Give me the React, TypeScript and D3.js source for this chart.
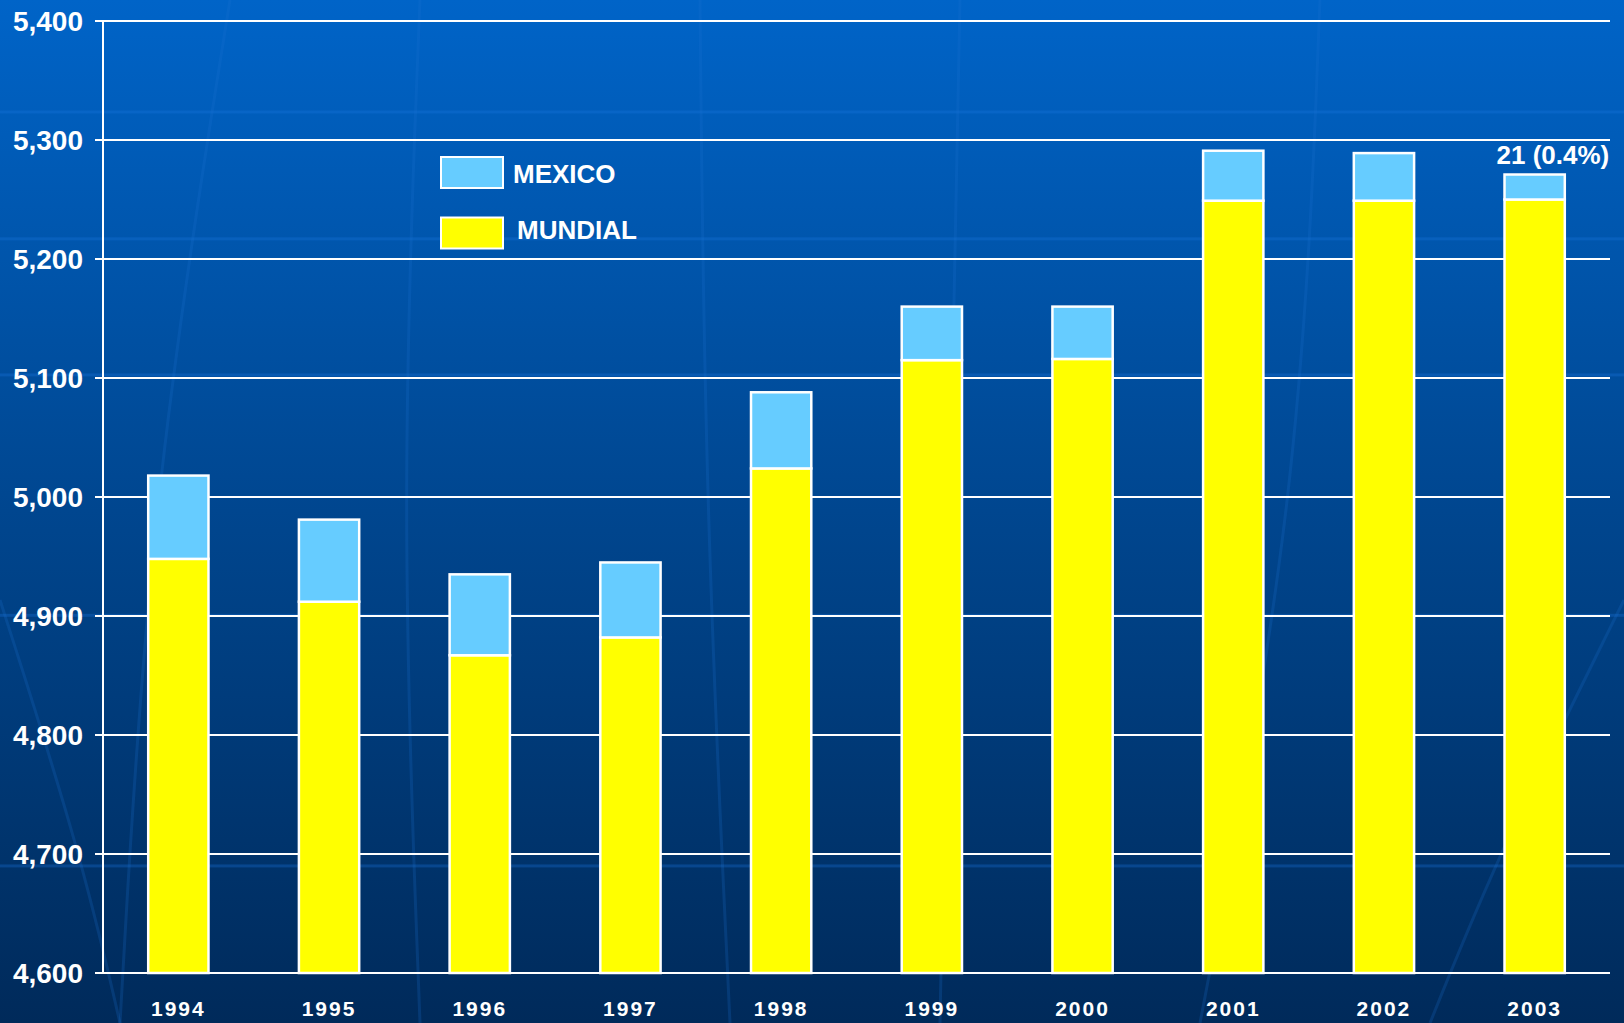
import React from "react";
import * as d3 from "d3";

const years = ["1994", "1995", "1996", "1997", "1998", "1999", "2000", "2001", "2002", "2003"];
const mundial = [4948, 4912, 4867, 4882, 5024, 5115, 5116, 5249, 5249, 5250];
const mexico = [70, 69, 68, 63, 64, 45, 44, 42, 40, 21];
const yTicks = [4600, 4700, 4800, 4900, 5000, 5100, 5200, 5300, 5400];
const legendItems = [
  { name: "MEXICO", color: "#66CCFF" },
  { name: "MUNDIAL", color: "#FFFF00" },
];
const annotation = "21 (0.4%)";

const W = 1624;
const H = 1023;
const margin = { left: 103, right: 14, top: 21, bottom: 50 };

export default function App() {
  const x = d3
    .scaleBand<string>()
    .domain(years)
    .range([margin.left, W - margin.right])
    .paddingInner(0.6)
    .paddingOuter(0.3);
  const y = d3
    .scaleLinear()
    .domain([4600, 5400])
    .range([H - margin.bottom, margin.top]);

  const fmt = d3.format(",");
  const font = "'Liberation Sans', Arial, sans-serif";

  const bands = [0.108, 0.232, 0.365, 0.6, 0.845];
  const meridians = [
    [[230, 0], [150, 500], [120, 1023]],
    [[420, 0], [400, 500], [420, 1023]],
    [[700, 0], [705, 500], [730, 1023]],
    [[960, 0], [950, 500], [940, 1023]],
    [[1320, 0], [1300, 500], [1200, 1023]],
    [[1624, 600], [1500, 850], [1430, 1023]],
    [[0, 600], [80, 850], [120, 1023]],
  ] as [number, number][][];
  const curve = d3.line().curve(d3.curveBasis);

  return (
    <svg
      width={W}
      height={H}
      style={{ position: "fixed", left: 0, top: 0, display: "block" }}
      fontFamily={font}
    >
      <defs>
        <linearGradient id="bg" x1="0" y1="0" x2="0" y2="1">
          <stop offset="0%" stopColor="#0064C8" />
          <stop offset="50%" stopColor="#00468F" />
          <stop offset="100%" stopColor="#002A5A" />
        </linearGradient>
      </defs>
      <rect x={0} y={0} width={W} height={H} fill="url(#bg)" />
      {bands.map((b, i) => (
        <rect key={"b" + i} x={0} y={b * H} width={W} height={3} fill="#1a78e0" opacity={0.3} />
      ))}
      {meridians.map((m, i) => (
        <path key={"m" + i} d={curve(m) || ""} fill="none" stroke="#1a70d0" strokeWidth={3} opacity={0.22} />
      ))}

      {/* gridlines and ticks */}
      {yTicks.map((t) => (
        <g key={t}>
          <line x1={margin.left - 8} x2={W - margin.right} y1={y(t)} y2={y(t)} stroke="#fff" strokeWidth={2} />
          <text
            x={83}
            y={y(t)}
            dy="0.36em"
            textAnchor="end"
            fill="#fff"
            fontSize={28}
            fontWeight="bold"
          >
            {fmt(t)}
          </text>
        </g>
      ))}
      <line x1={margin.left} x2={margin.left} y1={y(5400)} y2={y(4600)} stroke="#fff" strokeWidth={2} />

      {/* bars */}
      {years.map((yr, i) => {
        const bx = x(yr)!;
        const bw = x.bandwidth();
        const top = mundial[i] + mexico[i];
        return (
          <g key={yr}>
            <rect
              x={bx}
              y={y(mundial[i])}
              width={bw}
              height={y(4600) - y(mundial[i])}
              fill="#FFFF00"
              stroke="#fff"
              strokeWidth={2.5}
            />
            <rect
              x={bx}
              y={y(top)}
              width={bw}
              height={y(mundial[i]) - y(top)}
              fill="#66CCFF"
              stroke="#fff"
              strokeWidth={2.5}
            />
            <text
              x={bx + bw / 2}
              y={1016}
              textAnchor="middle"
              fill="#fff"
              fontSize={21}
              fontWeight="bold"
              letterSpacing={2}
            >
              {yr}
            </text>
          </g>
        );
      })}

      {/* annotation */}
      <text
        x={x(years[years.length - 1])! - 8}
        y={y(mundial[9] + mexico[9]) - 11}
        textAnchor="start"
        fill="#fff"
        fontSize={26}
        fontWeight="bold"
      >
        {annotation}
      </text>

      {/* legend */}
      {legendItems.map((l, i) => (
        <g key={l.name} transform={`translate(441, ${157 + i * 60.5})`}>
          <rect x={0} y={0} width={62} height={31} fill={l.color} stroke="#fff" strokeWidth={2} />
          <text x={72 + i * 4} y={i === 0 ? 26 : 21} fill="#fff" fontSize={26} fontWeight="bold">
            {l.name}
          </text>
        </g>
      ))}
    </svg>
  );
}
